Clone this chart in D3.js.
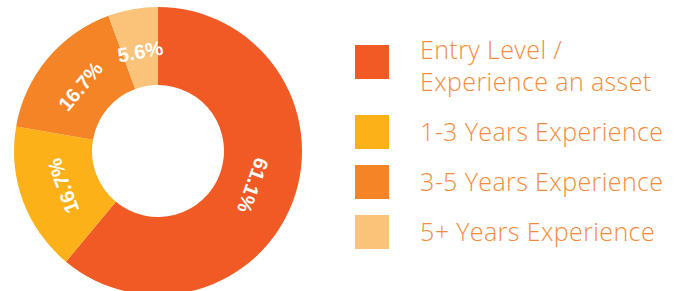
<!DOCTYPE html>
<html>
<head>
<meta charset="utf-8">
<script src="https://cdn.jsdelivr.net/npm/d3@7"></script>
<style>
  body { margin: 0; background: #fff; }
  svg { display: block; }
</style>
</head>
<body>
<div id="chart"></div>
<script>
const categories = [
  ['Entry Level /', 'Experience an asset'],
  ['1-3 Years Experience'],
  ['3-5 Years Experience'],
  ['5+ Years Experience']
];
const values = [61.1, 16.7, 16.7, 5.6];
const labels = ['61.1%', '16.7%', '16.7%', '5.6%'];
const colors = ['#F15A24', '#FBB117', '#F58426', '#FBC27A'];

const width = 682;
const height = 291;
const cx = 158;
const cy = 151;
const outerR = 144;
const innerR = 66;

const svg = d3.select('#chart')
    .append('svg')
    .attr('width', width)
    .attr('height', height);

const dataset = values.map(function(v, i) {
  return {value: v, label: labels[i], name: categories[i], color: colors[i]};
});

const pie = d3.pie()
    .value(function(d) {
      return d.value;
    })
    .sort(null);

const arc = d3.arc()
    .innerRadius(innerR)
    .outerRadius(outerR);

const labelArc = d3.arc()
    .innerRadius(101)
    .outerRadius(101);

const g = svg.append('g')
    .attr('transform', 'translate(' + cx + ',' + cy + ')');

const slices = pie(dataset);

g.selectAll('path')
    .data(slices)
    .enter()
    .append('path')
    .attr('d', arc)
    .attr('fill', function(d) {
      return d.data.color;
    });

g.selectAll('text')
    .data(slices)
    .enter()
    .append('text')
    .attr('transform', function(d) {
      const c = labelArc.centroid(d);
      const mid = (d.startAngle + d.endAngle) / 2 * 180 / Math.PI;
      return 'translate(' + c[0] + ',' + c[1] + ') rotate(' + mid + ')';
    })
    .attr('text-anchor', 'middle')
    .attr('dy', '0.35em')
    .attr('fill', '#fff')
    .style('font-family', '"Liberation Sans", Arial, sans-serif')
    .style('font-weight', 'bold')
    .style('font-size', '20px')
    .text(function(d) {
      return d.data.label;
    });

// legend
const squareSize = 34;
const legendX = 355;
const textX = 420;
let rowTop = 45;

dataset.forEach(function(d) {
  const lines = d.name.length;
  const item = svg.append('g')
      .attr('class', 'legend');
  item.append('rect')
      .attr('x', legendX)
      .attr('y', rowTop)
      .attr('width', squareSize)
      .attr('height', squareSize)
      .attr('fill', d.color);
  const text = item.append('text')
      .attr('x', textX)
      .attr('y', rowTop + 26 - (lines - 1) * 12)
      .attr('fill', '#F58B3C')
      .style('font-family', '"Open Sans", sans-serif')
      .style('font-weight', 300)
      .style('font-size', '25px')
      .style('letter-spacing', '0.4px');
  d.name.forEach(function(line, i) {
    text.append('tspan')
        .attr('x', textX)
        .attr('dy', i === 0 ? 0 : 32)
        .text(line);
  });
  rowTop += 50 + (lines - 1) * 20;
});
</script>
</body>
</html>
